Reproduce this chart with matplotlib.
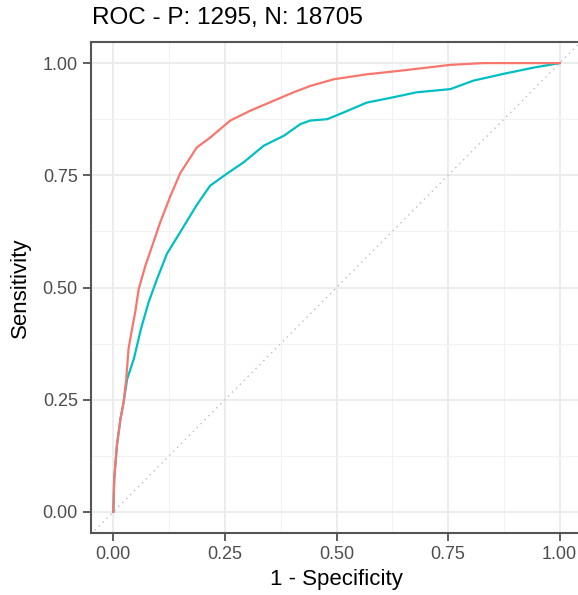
import matplotlib
matplotlib.use("Agg")
import matplotlib.pyplot as plt
from matplotlib.ticker import MultipleLocator

plt.rcParams["font.family"] = ["Liberation Sans", "DejaVu Sans"]

title = "ROC - P: 1295, N: 18705"

# model A (red)
fpr_a = [0.0, 0.002, 0.008, 0.016, 0.023, 0.029, 0.034, 0.042, 0.049, 0.057,
         0.072, 0.090, 0.105, 0.128, 0.150, 0.187, 0.217, 0.262, 0.307, 0.359,
         0.404, 0.441, 0.494, 0.568, 0.643, 0.755, 0.829, 1.0]
tpr_a = [0.0, 0.073, 0.148, 0.207, 0.244, 0.296, 0.363, 0.408, 0.445, 0.497,
         0.549, 0.601, 0.645, 0.704, 0.755, 0.812, 0.834, 0.872, 0.894, 0.916,
         0.935, 0.949, 0.964, 0.975, 0.983, 0.996, 1.0, 1.0]

# model B (teal)
fpr_b = [0.0, 0.002, 0.008, 0.016, 0.023, 0.031, 0.046, 0.062, 0.079, 0.098,
         0.120, 0.154, 0.187, 0.217, 0.255, 0.292, 0.337, 0.382, 0.419, 0.441,
         0.479, 0.516, 0.568, 0.628, 0.680, 0.755, 0.807, 0.874, 0.942, 1.0]
tpr_b = [0.0, 0.073, 0.148, 0.207, 0.244, 0.296, 0.341, 0.408, 0.467, 0.519,
         0.575, 0.630, 0.684, 0.727, 0.754, 0.779, 0.816, 0.838, 0.864, 0.872,
         0.875, 0.890, 0.912, 0.924, 0.935, 0.942, 0.961, 0.976, 0.990, 1.0]

ticks = [0.0, 0.25, 0.5, 0.75, 1.0]
tick_labels = ["0.00", "0.25", "0.50", "0.75", "1.00"]

fig = plt.figure(figsize=(5.78, 5.95), dpi=100)
ax = fig.add_axes([91 / 578, 1 - 533 / 595, 491 / 578, 491 / 595])

ax.plot([-0.05, 1.05], [-0.05, 1.05], color="#bdbdbd", linestyle=(0, (1, 3)),
        linewidth=1.0, zorder=1)
ax.plot(fpr_b, tpr_b, color="#00BFC4", linewidth=1.6, zorder=2)
ax.plot(fpr_a, tpr_a, color="#F8766D", linewidth=1.6, zorder=3)

ax.set_xlim(-0.05, 1.05)
ax.set_ylim(-0.047, 1.047)
ax.set_xticks(ticks)
ax.set_xticklabels(tick_labels)
ax.set_yticks(ticks)
ax.set_yticklabels(tick_labels)
ax.xaxis.set_minor_locator(MultipleLocator(0.125))
ax.yaxis.set_minor_locator(MultipleLocator(0.125))
ax.grid(which="major", color="#ebebeb", linewidth=1.3)
ax.grid(which="minor", color="#f2f2f2", linewidth=0.8)
ax.set_axisbelow(True)
ax.tick_params(which="minor", length=0)
ax.tick_params(which="major", length=5.5, width=1.1, color="#333333",
               labelsize=13, labelcolor="#4d4d4d", pad=4)
for side in ax.spines.values():
    side.set_color("#555555")
    side.set_linewidth(1.5)

ax.set_xlabel("1 - Specificity", fontsize=16, color="black", labelpad=4)
ax.set_ylabel("Sensitivity", fontsize=16, color="black", labelpad=8)
fig.text(92 / 578, 1 - 18 / 595, title, fontsize=17.5, ha="left", va="center",
         color="black")

fig.savefig("out.png", dpi=100)
